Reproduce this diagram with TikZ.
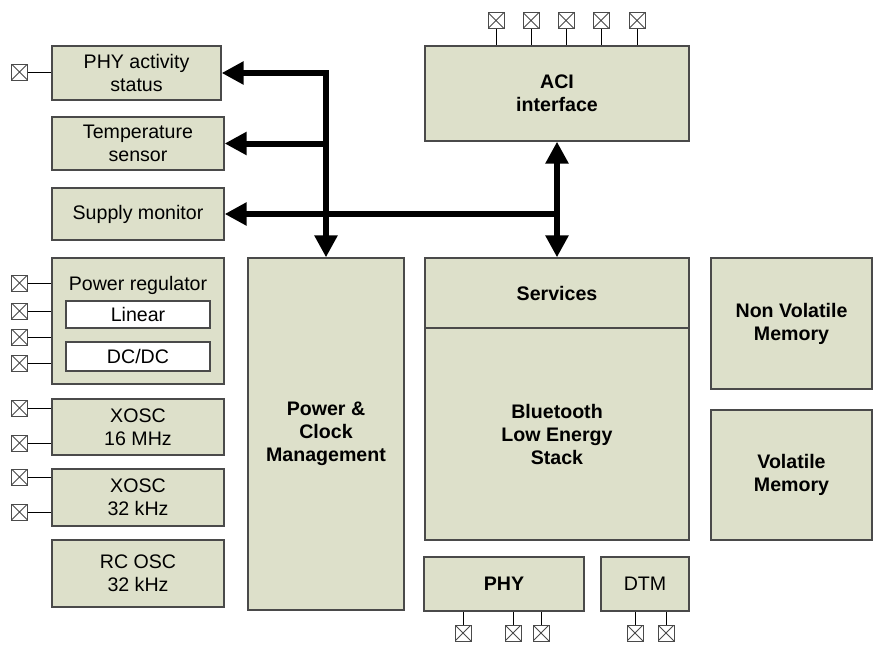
\documentclass[tikz,border=0pt]{standalone}
\usepackage{fontspec}
\setmainfont{Liberation Sans}
\usepackage{tikz}
\usetikzlibrary{arrows.meta}
\definecolor{BlockFill}{HTML}{DDE0CA}
\definecolor{BlockEdge}{HTML}{4A4A4A}
\tikzset{
  blk/.style={draw=BlockEdge, fill=BlockFill, line width=1.3pt, align=center, inner sep=0pt},
  subblk/.style={draw=BlockEdge, fill=white, line width=1.3pt, inner sep=0pt},
  padbox/.style={draw=BlockEdge, fill=white, line width=1pt, minimum size=16pt, inner sep=0pt,
    path picture={\draw[line width=0.8pt] (path picture bounding box.south west) -- (path picture bounding box.north east)
      (path picture bounding box.north west) -- (path picture bounding box.south east);}},
  lead/.style={draw=black, line width=1pt},
  bus/.style={line width=6pt, >={Triangle[length=22pt,width=22pt]}}
}

\begin{document}
\begin{tikzpicture}[x=1pt, y=-1pt, font=\fontsize{19.6}{23}\selectfont]
  \useasboundingbox (0,0) rectangle (873,645);
  % Left column
  \node[blk, minimum width=169pt, minimum height=54pt] (phyact) at (136.5,73) {PHY activity\\status};
  \node[blk, minimum width=172pt, minimum height=53pt] (temp) at (138,143.5) {Temperature\\sensor};
  \node[blk, minimum width=172pt, minimum height=52pt] (supply) at (138,214) {Supply monitor};
  \node[blk, minimum width=172pt, minimum height=126pt] (preg) at (138,321) {};
  \node (preglbl) at (138,285) {Power regulator};
  \node[subblk, minimum width=144pt, minimum height=27pt] (linear) at (138,314.5) {Linear};
  \node[subblk, minimum width=144pt, minimum height=29pt] (dcdc) at (138,356.5) {DC/DC};
  \node[blk, minimum width=172pt, minimum height=56pt] (xosc16) at (138,427) {XOSC\\16 MHz};
  \node[blk, minimum width=172pt, minimum height=57pt] (xosc32) at (138,497.5) {XOSC\\32 kHz};
  \node[blk, minimum width=172pt, minimum height=67pt] (rcosc) at (138,573.5) {RC OSC\\32 kHz};
  % Core
  \node[blk, minimum width=156pt, minimum height=352pt] (pcm) at (326,434) {\textbf{Power \&}\\\textbf{Clock}\\\textbf{Management}};
  \node[blk, minimum width=264pt, minimum height=95pt] (aci) at (557,93.5) {\textbf{ACI}\\\textbf{interface}};
  \node[blk, minimum width=264pt, minimum height=70pt] (services) at (557,293) {\textbf{Services}};
  \node[blk, minimum width=264pt, minimum height=212pt] (ble) at (557,434) {\textbf{Bluetooth}\\\textbf{Low Energy}\\\textbf{Stack}};
  \node[blk, minimum width=161pt, minimum height=131pt] (nvm) at (791.5,323.5) {\textbf{Non Volatile}\\\textbf{Memory}};
  \node[blk, minimum width=161pt, minimum height=130pt] (vm) at (791.5,475) {\textbf{Volatile}\\\textbf{Memory}};
  \node[blk, minimum width=160pt, minimum height=54pt] (phy) at (504,584) {\textbf{PHY}};
  \node[blk, minimum width=88pt, minimum height=54pt] (dtm) at (645,584) {DTM};
  % Pads
  \foreach \x [count=\i] in {496,531,566,601,637} {
    \node[padbox] (ap\i) at (\x,20.5) {};
    \draw[lead] (ap\i.south) -- (ap\i |- aci.north);
  }
  \node[padbox] (sp) at (19.5,72) {};
  \draw[lead] (sp.east) -- (sp -| phyact.west);
  \foreach \y [count=\i] in {283,311,337,363} {
    \node[padbox] (rp\i) at (19.5,\y) {};
    \draw[lead] (rp\i.east) -- (rp\i -| preg.west);
  }
  \foreach \y [count=\i] in {408,443} {
    \node[padbox] (xa\i) at (19.5,\y) {};
    \draw[lead] (xa\i.east) -- (xa\i -| xosc16.west);
  }
  \foreach \y [count=\i] in {477,512} {
    \node[padbox] (xb\i) at (19.5,\y) {};
    \draw[lead] (xb\i.east) -- (xb\i -| xosc32.west);
  }
  \foreach \x [count=\i] in {463,513,541} {
    \node[padbox] (pp\i) at (\x,633) {};
    \draw[lead] (pp\i.north) -- (pp\i |- phy.south);
  }
  \foreach \x [count=\i] in {635,666} {
    \node[padbox] (dp\i) at (\x,633) {};
    \draw[lead] (dp\i.north) -- (dp\i |- dtm.south);
  }
  % Bus
  \draw[bus, <->] (phyact.east) -| (pcm.north);
  \draw[bus, ->] (pcm.north |- temp.east) -- (temp.east);
  \draw[bus, ->] (aci.south |- supply.east) -- (supply.east);
  \draw[bus, <->] (aci.south) -- (services.north);
\end{tikzpicture}
\end{document}
